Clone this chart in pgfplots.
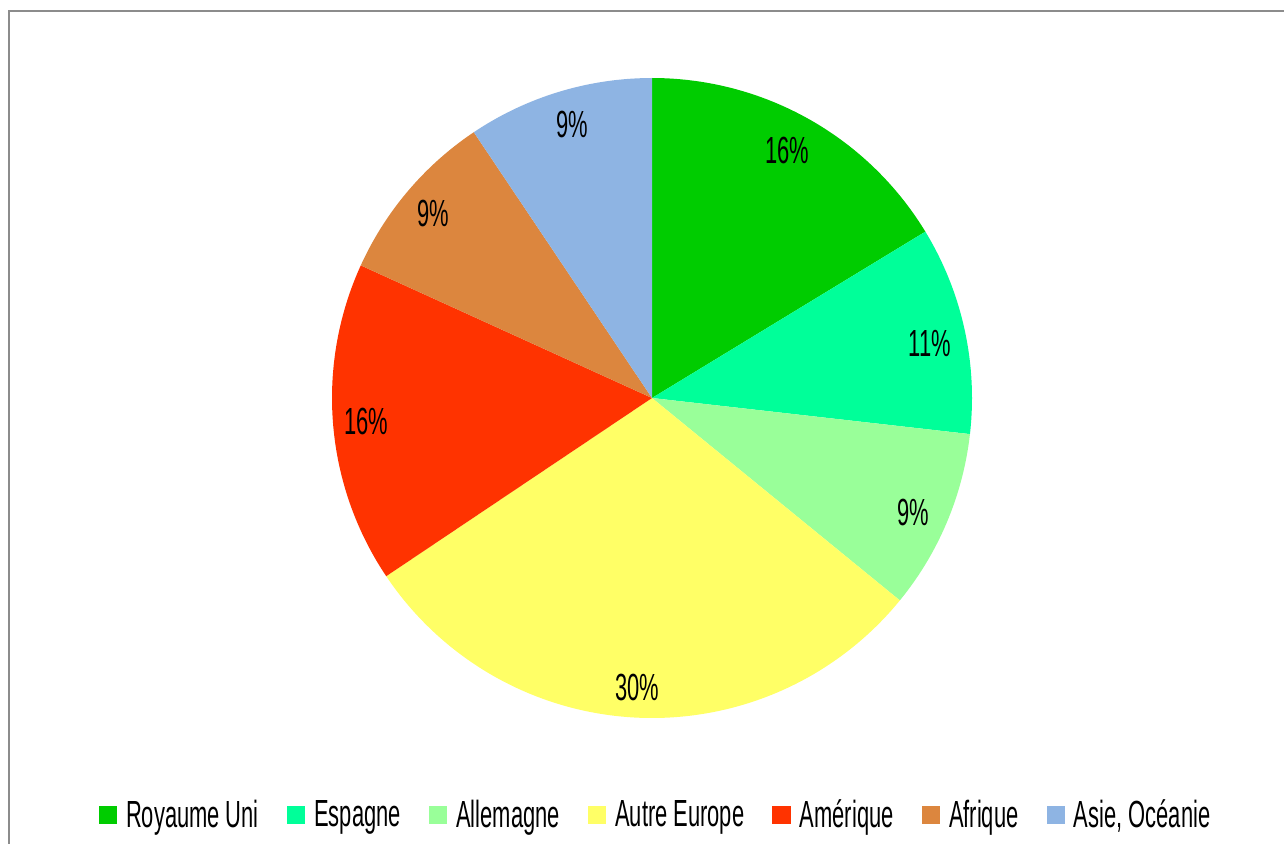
\documentclass[border=0pt]{standalone}
\usepackage{fontspec}
\setmainfont{Liberation Sans}[FakeStretch=0.58]
\usepackage{pgfplots}
\pgfplotsset{compat=1.18}
\definecolor{cRU}{HTML}{00CC00}
\definecolor{cES}{HTML}{00FF99}
\definecolor{cDE}{HTML}{99FF99}
\definecolor{cAE}{HTML}{FFFF66}
\definecolor{cAM}{HTML}{FF3300}
\definecolor{cAF}{HTML}{DC863E}
\definecolor{cAS}{HTML}{8EB4E3}
\definecolor{frame}{HTML}{8C8C8C}
\newcommand{\lbl}{\fontsize{18.9}{22}\selectfont}
\begin{document}
\begin{tikzpicture}
\begin{axis}[
  width=642pt, height=421.5pt, scale only axis,
  xmin=0, xmax=1284, ymin=0, ymax=843,
  hide axis, clip=true,
  legend columns=-1,
  legend image code/.code={\path[#1] (0pt,-4.6pt) rectangle (9.2pt,4.6pt);},
  legend style={at={(0.5117,0.0332)}, anchor=center, draw=none, fill=none,
    font=\lbl, inner sep=0pt,
    /tikz/every odd column/.append style={column sep=2pt},
    /tikz/every even column/.append style={column sep=11.5pt},
    nodes={inner sep=2.5pt}},
]
\fill[white] (axis cs:0,0) rectangle (axis cs:1284,843);
\draw[line width=1pt, color=frame] (axis cs:9,-20) -- (axis cs:9,832) -- (axis cs:1300,832);
% slices: domain in percent (start:end)
\addplot[fill=cRU, draw=none, domain=0:16.3, samples=80, variable=\t]
  ({652+320*cos(90-3.6*\t)}, {445+320*sin(90-3.6*\t)}) -- (axis cs:652,445) -- cycle;
\addlegendentry{Royaume Uni}
\addplot[fill=cES, draw=none, domain=16.3:26.8, samples=60, variable=\t]
  ({652+320*cos(90-3.6*\t)}, {445+320*sin(90-3.6*\t)}) -- (axis cs:652,445) -- cycle;
\addlegendentry{Espagne}
\addplot[fill=cDE, draw=none, domain=26.8:35.9, samples=60, variable=\t]
  ({652+320*cos(90-3.6*\t)}, {445+320*sin(90-3.6*\t)}) -- (axis cs:652,445) -- cycle;
\addlegendentry{Allemagne}
\addplot[fill=cAE, draw=none, domain=35.9:65.6, samples=120, variable=\t]
  ({652+320*cos(90-3.6*\t)}, {445+320*sin(90-3.6*\t)}) -- (axis cs:652,445) -- cycle;
\addlegendentry{Autre Europe}
\addplot[fill=cAM, draw=none, domain=65.6:81.8, samples=80, variable=\t]
  ({652+320*cos(90-3.6*\t)}, {445+320*sin(90-3.6*\t)}) -- (axis cs:652,445) -- cycle;
\addlegendentry{Amérique}
\addplot[fill=cAF, draw=none, domain=81.8:90.6, samples=60, variable=\t]
  ({652+320*cos(90-3.6*\t)}, {445+320*sin(90-3.6*\t)}) -- (axis cs:652,445) -- cycle;
\addlegendentry{Afrique}
\addplot[fill=cAS, draw=none, domain=90.6:100, samples=60, variable=\t]
  ({652+320*cos(90-3.6*\t)}, {445+320*sin(90-3.6*\t)}) -- (axis cs:652,445) -- cycle;
\addlegendentry{Asie, Océanie}
% labels
\node[font=\lbl] at (axis cs:787,693) {16\%};
\node[font=\lbl] at (axis cs:930,500) {11\%};
\node[font=\lbl] at (axis cs:913,331) {9\%};
\node[font=\lbl] at (axis cs:637,156) {30\%};
\node[font=\lbl] at (axis cs:366,422) {16\%};
\node[font=\lbl] at (axis cs:433,630) {9\%};
\node[font=\lbl] at (axis cs:572,719) {9\%};
\end{axis}
\end{tikzpicture}
\end{document}
